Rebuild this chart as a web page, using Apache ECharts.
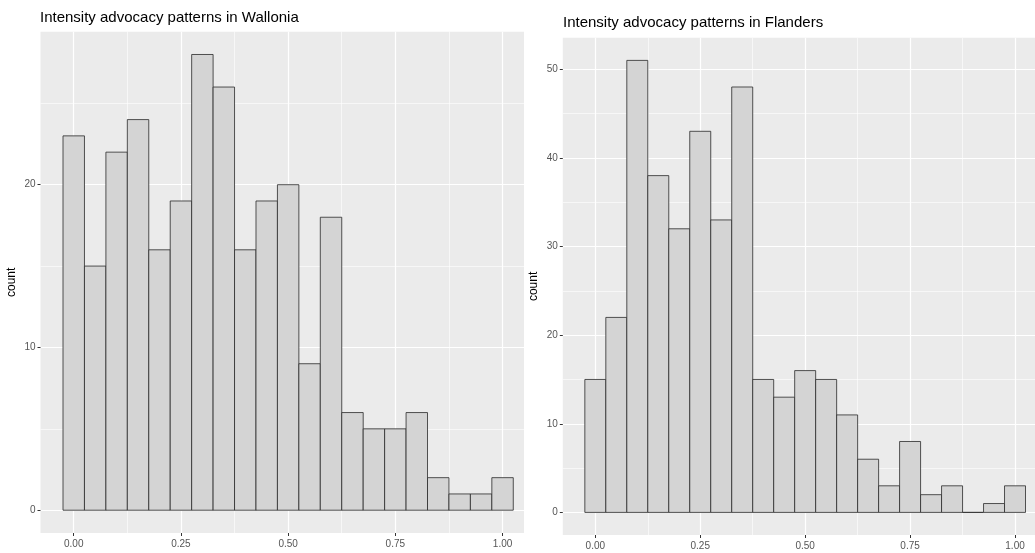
<!DOCTYPE html>
<html>
<head>
<meta charset="utf-8">
<script src="https://cdn.jsdelivr.net/npm/echarts@6/dist/echarts.min.js"></script>
<style>
html,body{margin:0;padding:0;background:#fff;}
#chart{width:1035px;height:553px;}
</style>
</head>
<body>
<div id="chart"></div>
<script>
// ---- data ----
const binCenters = [0.00,0.05,0.10,0.15,0.20,0.25,0.30,0.35,0.40,0.45,0.50,0.55,0.60,0.65,0.70,0.75,0.80,0.85,0.90,0.95,1.00];
const walloniaCounts = [23,15,22,24,16,19,28,26,16,19,20,9,18,6,5,5,6,2,1,1,2];
const flandersCounts = [15,22,51,38,32,43,33,48,15,13,16,15,11,6,3,8,2,3,0,1,3];
const binWidth = 0.05;
const xTickValues = [0, 0.25, 0.5, 0.75, 1];
const xMinorValues = [0.125, 0.375, 0.625, 0.875];
const walloniaYTicks = [0, 10, 20];
const walloniaYMinor = [5, 15, 25];
const flandersYTicks = [0, 10, 20, 30, 40, 50];
const flandersYMinor = [5, 15, 25, 35, 45];
const titles = ['Intensity advocacy patterns in Wallonia', 'Intensity advocacy patterns in Flanders'];
const yName = 'count';

const FONT = '"Liberation Sans", Arial, sans-serif';

function barsRender(params, api) {
  const c = api.value(0), n = api.value(1);
  const p0 = api.coord([c - binWidth / 2, n]);
  const p1 = api.coord([c + binWidth / 2, 0]);
  return {
    type: 'rect',
    shape: { x: p0[0], y: p0[1], width: p1[0] - p0[0], height: p1[1] - p0[1] },
    style: { fill: '#D4D4D4', stroke: '#2a2a2a', lineWidth: 0.8 }
  };
}

function mainX(gi, min, max) {
  return {
    type: 'value', gridIndex: gi, min: min, max: max, position: 'bottom',
    axisLine: { show: false, onZero: false },
    axisTick: { show: true, length: 3, lineStyle: { color: '#333', width: 1 }, customValues: xTickValues },
    axisLabel: { show: true, margin: 6, fontSize: 10, color: '#555555', fontFamily: FONT,
      customValues: xTickValues, formatter: v => v.toFixed(2) },
    splitLine: { show: true, lineStyle: { color: '#FFFFFF', width: 1.2 } }
  };
}
function minorX(gi, min, max) {
  return {
    type: 'value', gridIndex: gi, min: min, max: max, position: 'top',
    axisLine: { show: false, onZero: false },
    axisTick: { show: false, customValues: xMinorValues },
    axisLabel: { show: false, customValues: xMinorValues },
    splitLine: { show: true, lineStyle: { color: '#FFFFFF', width: 0.6 } }
  };
}
function mainY(gi, min, max, ticks, gap) {
  return {
    type: 'value', gridIndex: gi, min: min, max: max, position: 'left',
    name: yName, nameLocation: 'middle', nameGap: gap, nameRotate: 90,
    nameTextStyle: { fontSize: 12, color: '#000', fontFamily: FONT },
    axisLine: { show: false, onZero: false },
    axisTick: { show: true, length: 3, lineStyle: { color: '#333', width: 1 }, customValues: ticks },
    axisLabel: { show: true, margin: 5, fontSize: 10, color: '#555555', fontFamily: FONT, customValues: ticks },
    splitLine: { show: true, lineStyle: { color: '#FFFFFF', width: 1.2 } }
  };
}
function minorY(gi, min, max, ticks) {
  return {
    type: 'value', gridIndex: gi, min: min, max: max, position: 'right',
    axisLine: { show: false, onZero: false },
    axisTick: { show: false, customValues: ticks },
    axisLabel: { show: false, customValues: ticks },
    splitLine: { show: true, lineStyle: { color: '#FFFFFF', width: 0.6 } }
  };
}

const chart = echarts.init(document.getElementById('chart'), null, { renderer: 'canvas' });
chart.setOption({
  animation: false,
  backgroundColor: '#FFFFFF',
  textStyle: { fontFamily: FONT },
  title: [
    { text: titles[0], left: 40, top: 10, padding: 0,
      textStyle: { fontSize: 15, fontWeight: 'normal', color: '#000', fontFamily: FONT } },
    { text: titles[1], left: 563, top: 15, padding: 0,
      textStyle: { fontSize: 15, fontWeight: 'normal', color: '#000', fontFamily: FONT } }
  ],
  grid: [
    { left: 40.5, top: 31.7, width: 483.5, height: 501.3, show: true, backgroundColor: '#EBEBEB', borderWidth: 0, containLabel: false },
    { left: 562.8, top: 37.8, width: 472.2, height: 497.2, show: true, backgroundColor: '#EBEBEB', borderWidth: 0, containLabel: false }
  ],
  xAxis: [
    mainX(0, -0.0775, 1.05),
    minorX(0, -0.0775, 1.05),
    mainX(1, -0.0775, 1.0476),
    minorX(1, -0.0775, 1.0476)
  ],
  yAxis: [
    mainY(0, -1.4, 29.4, walloniaYTicks, 23),
    minorY(0, -1.4, 29.4, walloniaYMinor),
    mainY(1, -2.55, 53.55, flandersYTicks, 23),
    minorY(1, -2.55, 53.55, flandersYMinor)
  ],
  series: [
    { type: 'custom', xAxisIndex: 0, yAxisIndex: 0, z: 10, silent: true,
      renderItem: barsRender, data: binCenters.map((c, i) => [c, walloniaCounts[i]]) },
    { type: 'custom', xAxisIndex: 2, yAxisIndex: 2, z: 10, silent: true,
      renderItem: barsRender, data: binCenters.map((c, i) => [c, flandersCounts[i]]) }
  ]
});
</script>
</body>
</html>
